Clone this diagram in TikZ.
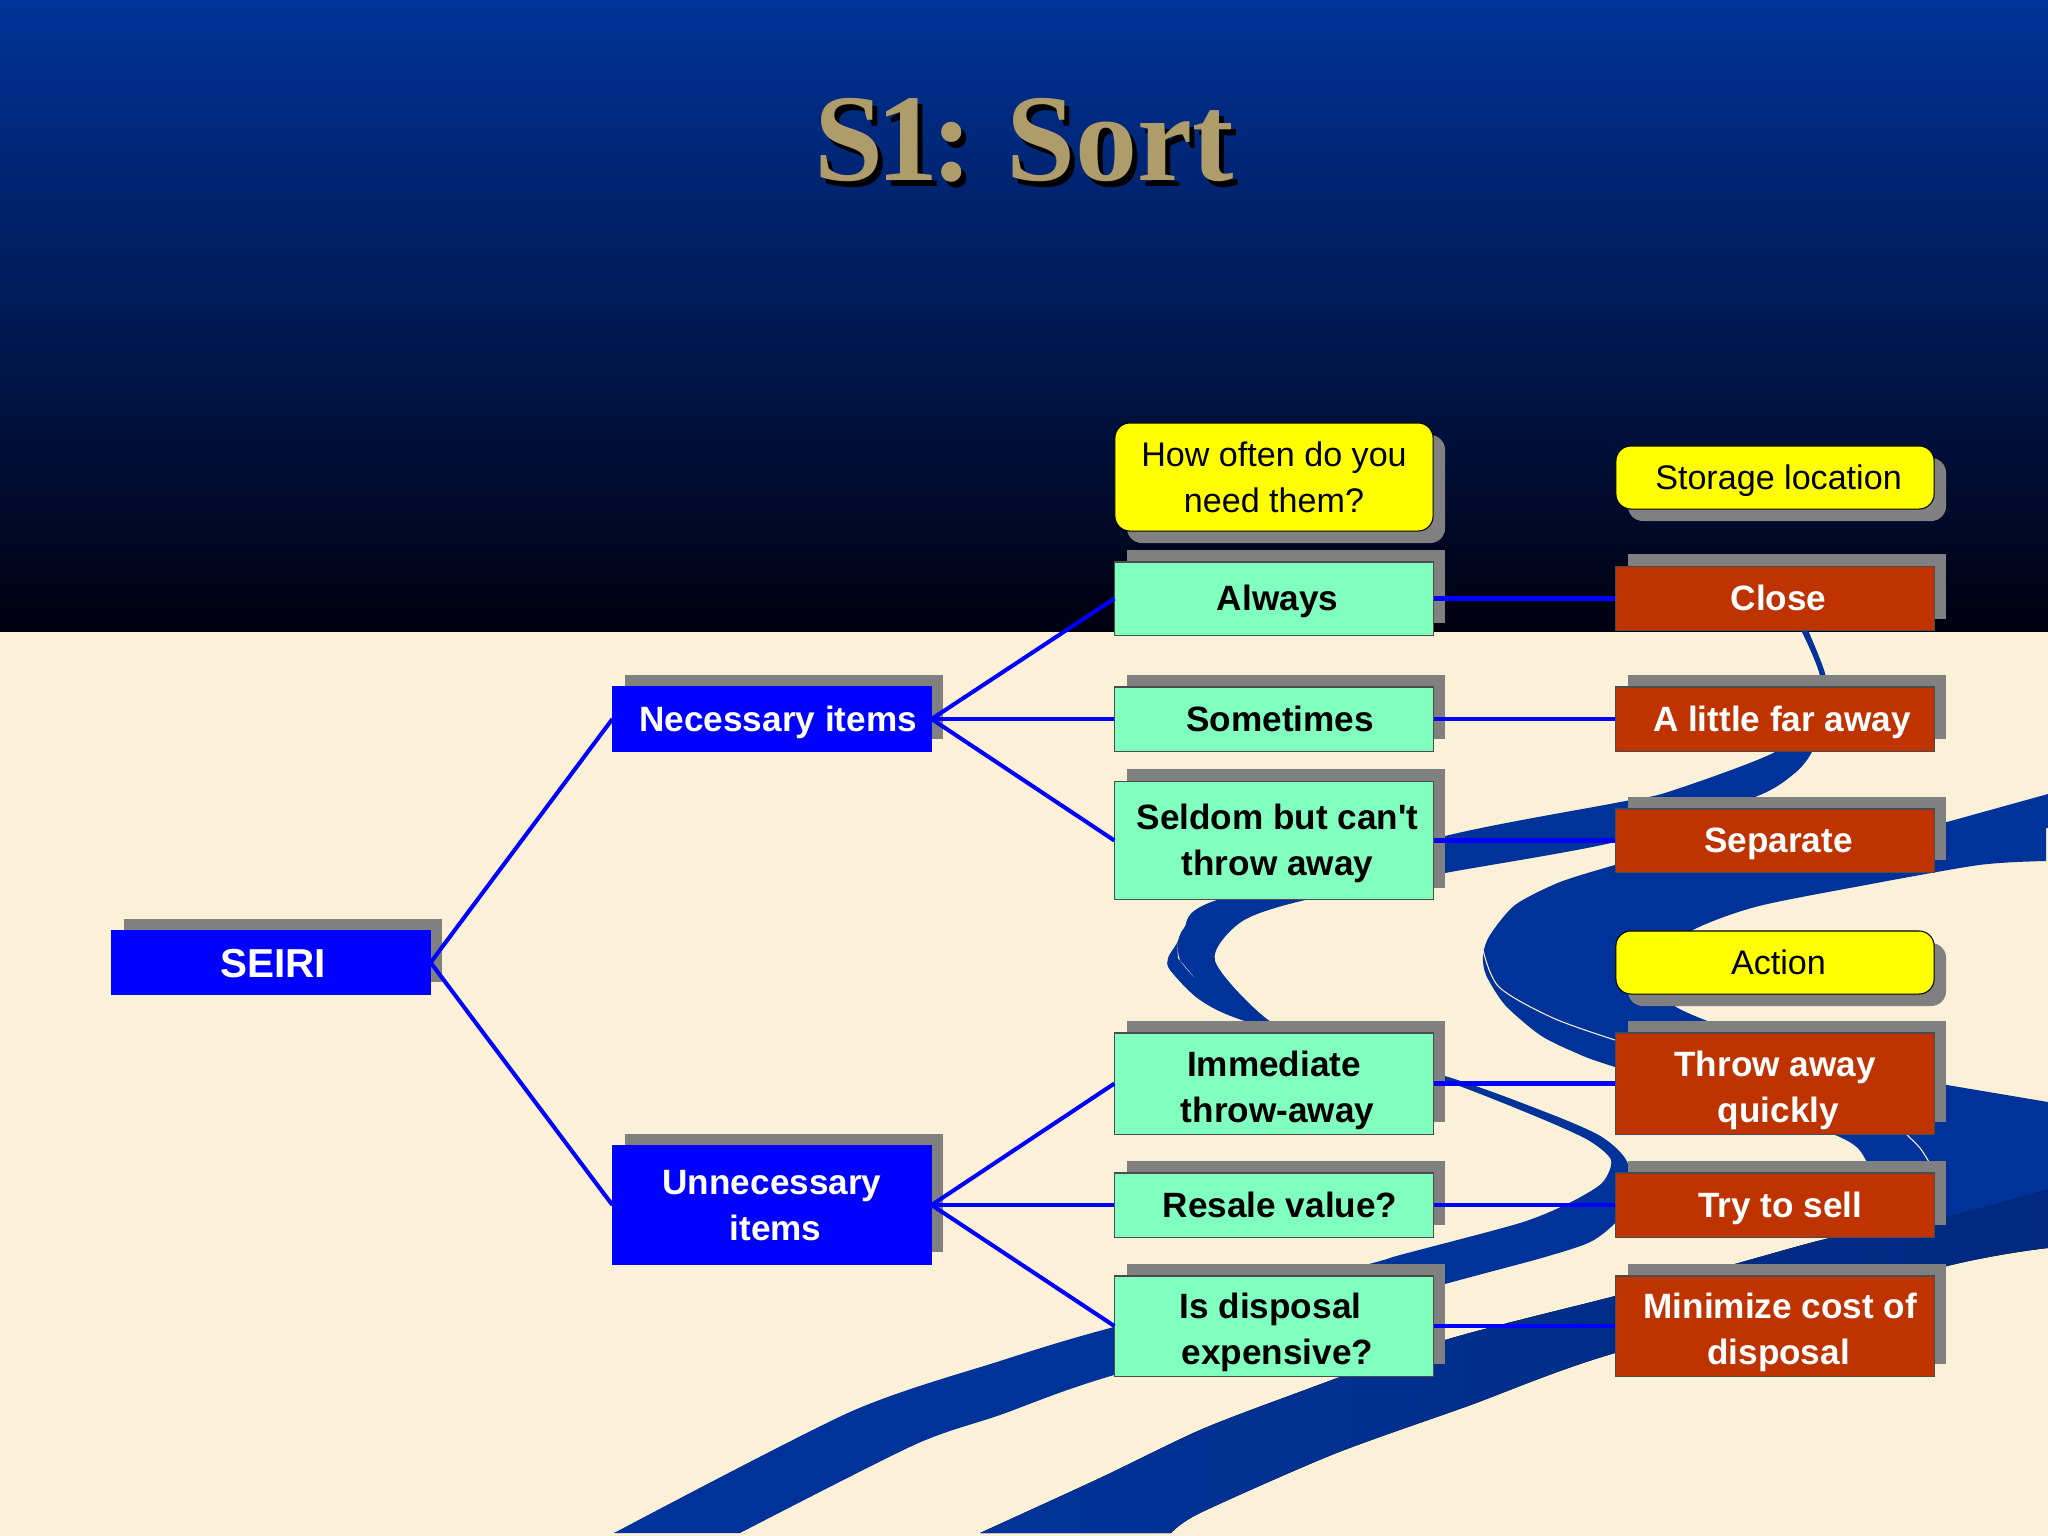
\documentclass[tikz,border=0pt]{standalone}
\usepackage{fontspec}
\setmainfont{Liberation Sans}[Ligatures=NoCommon]
\newfontfamily\titlefont{Liberation Serif}
\usetikzlibrary{shadows}
\definecolor{skytop}{HTML}{003399}
\definecolor{skybottom}{HTML}{00000F}
\definecolor{cream}{HTML}{FBF1D8}
\definecolor{ribbonblue}{HTML}{003399}
\definecolor{ribbondark}{HTML}{00297F}
\definecolor{shadegray}{HTML}{808080}
\definecolor{mint}{HTML}{80FFBF}
\definecolor{brick}{HTML}{BF3300}
\definecolor{headtan}{HTML}{AF9C6B}
\definecolor{askyellow}{HTML}{FFFF00}
\definecolor{linkblue}{HTML}{0000FF}
% struts keep the lines at the same height in every box
\newcommand{\linestrut}{\rule[-3pt]{0pt}{13pt}}
\newcommand{\lowstrut}{\rule{0pt}{12pt}}
\newcommand{\nudge}{\hspace*{2pt}}
\newcommand{\bignudge}{\hspace*{3.5pt}}
\newcommand{\heading}{\fontsize{35.3}{38}\selectfont\titlefont\bfseries S\kern-2pt 1\kern-2pt:\kern0.7pt\ Sort}
\tikzset{
  boxbase/.style={draw=black!70,line width=0.3pt,inner sep=0pt,align=center,minimum width=3.18cm},
  upshade/.style={general shadow={fill=shadegray,shadow xshift=0.12cm,shadow yshift=0.12cm}},
  downshade/.style={general shadow={fill=shadegray,shadow xshift=0.12cm,shadow yshift=-0.12cm}},
  rootbox/.style={boxbase,upshade,fill=linkblue,draw=linkblue,text=white,font=\fontsize{11.5}{13}\selectfont\bfseries},
  itembox/.style={boxbase,upshade,fill=linkblue,draw=linkblue,text=white,font=\fontsize{10}{13}\selectfont\bfseries},
  greenbox/.style={boxbase,upshade,fill=mint,text=black,font=\fontsize{10}{13}\selectfont\bfseries},
  redbox/.style={boxbase,upshade,fill=brick,text=white,font=\fontsize{10}{13}\selectfont\bfseries},
  askbox/.style={boxbase,downshade,fill=askyellow,draw=black,rounded corners=0.15cm,text=black,font=\fontsize{9.7}{13}\selectfont},
  link/.style={draw=linkblue,line width=1.15pt},
  ribbon/.style={fill=ribbonblue},
  sliver/.style={draw=cream,line width=0.3pt}
}
\begin{document}
\begin{tikzpicture}[x=0.01cm,y=-0.01cm]
  \useasboundingbox (0,0) rectangle (2048,1536);
  \fill[top color=skytop,bottom color=skybottom] (0,0) rectangle (2048,632);
  \fill[cream] (0,632) rectangle (2048,1536);
  % ribbon from the bottom edge up to the Close box
  \fill[ribbon] plot[smooth,tension=0.45] coordinates {(1807,628) (1826,677) (1825,720) (1812,752) (1795,773) (1755,797) (1615,842) (1445,873) (1301,901) (1241,922) (1215,961) (1271,1022) (1360,1060) (1445,1081) (1535,1116) (1588,1140) (1611,1160) (1602,1183) (1569,1203) (1520,1223) (1400,1255) (1361,1266) (1114,1327) (1000,1361) (850,1412) (614,1533)}
    -- plot[smooth,tension=0.45] coordinates {(740,1533) (914,1445) (1000,1415) (1114,1375) (1445,1284) (1545,1257) (1594,1240) (1625,1210) (1628,1164) (1602,1137) (1548,1113) (1445,1076) (1251,1023) (1200,1000) (1170,970) (1168,958) (1177,943) (1184,928) (1214,901) (1445,836) (1615,803) (1668,792) (1775,752) (1808,715) (1820,677) (1800,628)} -- cycle;
  % fold on the right
  \fill[ribbon] plot[smooth,tension=0.45] coordinates {(1615,865) (1560,882) (1515,905) (1490,935) (1483,955) (1486,975) (1505,1005) (1540,1035) (1574,1052) (1615,1067) (1830,1133) (1867,1162) (1880,1210) (1834,1245)}
    -- (2048,1225) -- (2048,1102) -- (1947,1085) -- plot[smooth,tension=0.45] coordinates {(1710,1022) (1673,1005) (1640,970) (1691,931) (1755,907) (1855,887) (1979,865) (2046,861)}
    -- (2046,828) -- (2048,828) -- (2048,794) -- (1947,822) -- cycle;
  % ribbon from the bottom edge to the right edge
  \fill[left color=ribbonblue,right color=ribbondark] plot[smooth,tension=0.45] coordinates {(980,1533) (1100,1478) (1200,1430) (1294,1394) (1445,1340) (1615,1296) (1731,1265) (1834,1237) (1935,1220) (2048,1190)}
    -- plot[smooth,tension=0.45] coordinates {(2048,1248) (1947,1266) (1615,1353) (1468,1406) (1334,1454) (1200,1513) (1171,1533)} -- cycle;
  \draw[sliver] plot[smooth] coordinates {(1483,950) (1499,987) (1553,1018) (1615,1040)};
  \draw[sliver] plot[smooth] coordinates {(1906,1134) (1920,1148) (1929,1162)};
  \fill[cream] plot[smooth] coordinates {(1177,941) (1180,960) (1194,977) (1178,958)} -- cycle;
  % title
  \node[anchor=base west,inner sep=0pt,text=black] (titleshade) at (819,186) {\heading};
  \node[anchor=base west,inner sep=0pt,text=headtan] (title) at (814,180) {\heading};
  % left part
  \node[rootbox,minimum height=0.63cm] (seiri) at (271,962.5) {\hspace*{1.3pt}\rule[-3pt]{0pt}{14.5pt}SEIRI};
  \node[itembox,minimum height=0.64cm] (necessary) at (772,719) {\bignudge\linestrut Necessary items};
  \node[itembox,minimum height=1.18cm] (unnecessary) at (772,1205) {\linestrut Unnecessary\\\nudge\linestrut items};
  % middle column
  \node[askbox,minimum height=1.08cm] (howoften) at (1274,477) {\linestrut How often do you\\\linestrut need them?};
  \node[greenbox,minimum height=0.73cm] (always) at (1274,598.5) {\nudge\linestrut Always};
  \node[greenbox,minimum height=0.64cm] (sometimes) at (1274,719) {\bignudge\linestrut Sometimes};
  \node[greenbox,minimum height=1.18cm] (seldom) at (1274,840.5) {\nudge\linestrut Seldom but can\textquotesingle t\\\nudge\linestrut throw away};
  \node[greenbox,minimum height=1.01cm] (immediate) at (1274,1083.5) {\lowstrut Immediate\\\nudge\linestrut throw-away};
  \node[greenbox,minimum height=0.64cm] (resale) at (1274,1205) {\bignudge\linestrut Resale value?};
  \node[greenbox,minimum height=1cm] (disposal) at (1274,1326) {\hspace*{-2pt}\lowstrut Is disposal\\\nudge\linestrut expensive?};
  % right column
  \node[askbox,minimum height=0.63cm] (storage) at (1775,477.5) {\nudge\linestrut Storage location};
  \node[redbox,minimum height=0.64cm] (close) at (1775,598.5) {\nudge\linestrut Close};
  \node[redbox,minimum height=0.64cm] (far) at (1775,719) {\hspace*{4pt}\linestrut A little far away};
  \node[redbox,minimum height=0.63cm] (separate) at (1775,840.5) {\nudge\linestrut Separate};
  \node[askbox,minimum height=0.63cm] (action) at (1775,962.5) {\nudge\linestrut Action};
  \node[redbox,minimum height=1.01cm] (throw) at (1775,1083.5) {\lowstrut Throw away\\\nudge\linestrut quickly};
  \node[redbox,minimum height=0.64cm] (sell) at (1775,1205) {\hspace*{3pt}\linestrut Try to sell};
  \node[redbox,minimum height=1cm] (minimize) at (1775,1326) {\hspace*{3pt}\lowstrut Minimize cost of\\\nudge\linestrut disposal};
  % connectors
  \draw[link] (seiri.east) -- (necessary.west);
  \draw[link] (seiri.east) -- (unnecessary.west);
  \draw[link] (necessary.east) -- (always.west);
  \draw[link] (necessary.east) -- (sometimes.west);
  \draw[link] (necessary.east) -- (seldom.west);
  \draw[link] (unnecessary.east) -- (immediate.west);
  \draw[link] (unnecessary.east) -- (resale.west);
  \draw[link] (unnecessary.east) -- (disposal.west);
  \draw[link] (always.east) -- (close.west);
  \draw[link] (sometimes.east) -- (far.west);
  \draw[link] (seldom.east) -- (separate.west);
  \draw[link] (immediate.east) -- (throw.west);
  \draw[link] (resale.east) -- (sell.west);
  \draw[link] (disposal.east) -- (minimize.west);
\end{tikzpicture}
\end{document}
